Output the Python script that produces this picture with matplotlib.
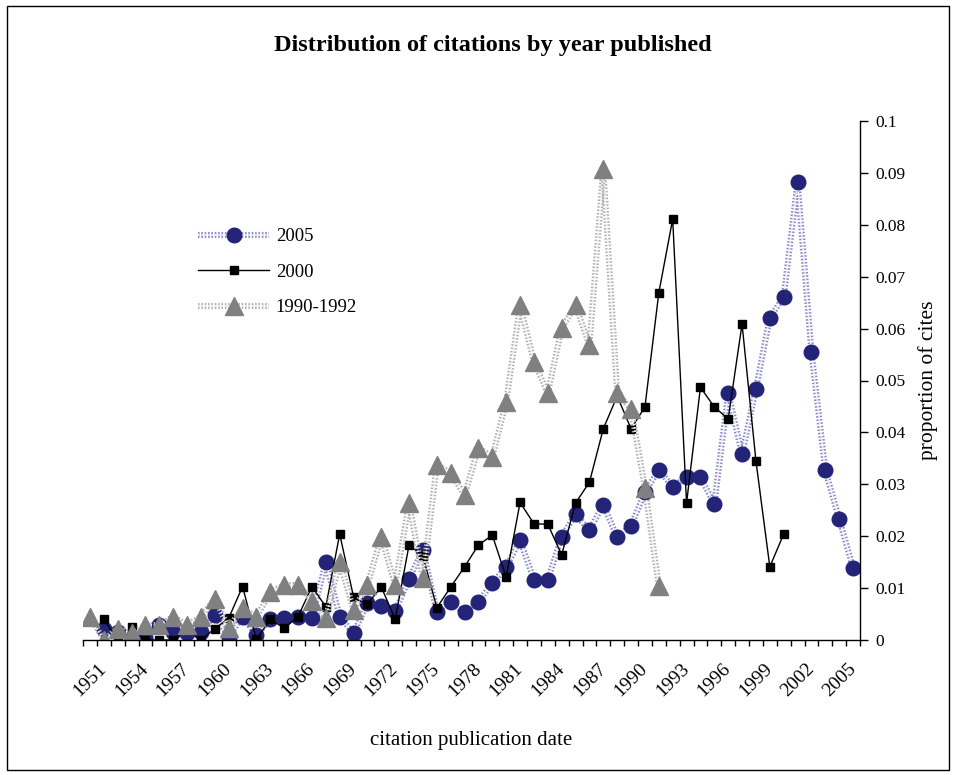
import matplotlib.pyplot as plt
import matplotlib.patheffects as pe
from matplotlib.legend_handler import HandlerTuple
from matplotlib.patches import Rectangle
from matplotlib.ticker import FixedLocator, NullFormatter
import numpy as np

plt.rcParams['font.family'] = ['Liberation Serif', 'DejaVu Serif']

nan = np.nan
years = list(range(1950, 2006))

cites_2005 = [nan, 0.0022, 0.0015, 0.0004, 0.0003, 0.0028, 0.0016, 0.0014, 0.0016, 0.0048,
              0.0006, 0.0045, 0.0010, 0.0040, 0.0042, 0.0045, 0.0043, 0.0150, 0.0045, 0.0013,
              0.0071, 0.0065, 0.0055, 0.0118, 0.0174, 0.0054, 0.0073, 0.0053, 0.0073, 0.0110,
              0.0141, 0.0192, 0.0116, 0.0116, 0.0199, 0.0242, 0.0211, 0.0261, 0.0198, 0.0220,
              0.0285, 0.0328, 0.0295, 0.0314, 0.0314, 0.0262, 0.0476, 0.0358, 0.0484, 0.0621,
              0.0661, 0.0882, 0.0555, 0.0327, 0.0233, 0.0139]

cites_2000 = [nan, 0.0040, 0.0000, 0.0025, 0.0000, 0.0000, 0.0000, 0.0020, 0.0000, 0.0022,
              0.0042, 0.0103, 0.0001, 0.0040, 0.0023, 0.0045, 0.0103, 0.0064, 0.0204, 0.0083,
              0.0070, 0.0102, 0.0040, 0.0183, 0.0162, 0.0062, 0.0102, 0.0141, 0.0183, 0.0202,
              0.0121, 0.0265, 0.0224, 0.0223, 0.0164, 0.0264, 0.0304, 0.0407, 0.0470, 0.0407,
              0.0449, 0.0669, 0.0811, 0.0264, 0.0487, 0.0449, 0.0426, 0.0609, 0.0345, 0.0141,
              0.0204, nan, nan, nan, nan, nan]

cites_1990_92 = [0.0045, 0.0000, 0.0022, 0.0013, 0.0028, 0.0029, 0.0045, 0.0029, 0.0045, 0.0079,
                 0.0024, 0.0062, 0.0044, 0.0092, 0.0106, 0.0106, 0.0076, 0.0042, 0.0150, 0.0058,
                 0.0106, 0.0199, 0.0106, 0.0264, 0.0119, 0.0337, 0.0322, 0.0279, 0.0370, 0.0353,
                 0.0459, 0.0645, 0.0536, 0.0476, 0.0601, 0.0645, 0.0568, 0.0907, 0.0476, 0.0445,
                 0.0293, 0.0104, nan, nan, nan, nan, nan, nan, nan, nan,
                 nan, nan, nan, nan, nan, nan]

x = np.arange(len(years))

fig = plt.figure(figsize=(9.56, 7.75), dpi=100)
ax = fig.add_axes([83 / 956, 1 - 640 / 775, 777 / 956, 519 / 775])

handles = []

# 2005: textured blue line, navy circles
l1, = ax.plot(x, cites_2005, color='white', lw=1.1, ls=(0, (1, 1.2)), zorder=2,
              path_effects=[pe.Stroke(linewidth=4.4, foreground='#8a8ac6'), pe.Normal()])
m1, = ax.plot(x, cites_2005, ls='none', marker='o', ms=10.5, color='#232378',
              markeredgecolor='#232378', zorder=2.1)
handles.append((l1, m1))

# 2000: thin black line, black squares
l2, = ax.plot(x, cites_2000, color='black', lw=1.0, zorder=2.2)
m2, = ax.plot(x, cites_2000, ls='none', marker='s', ms=6, color='black', zorder=2.3)
handles.append((l2, m2))

# 1990-1992: textured gray line, gray triangles
l3, = ax.plot(x, cites_1990_92, color='white', lw=1.1, ls=(0, (1, 1.2)), zorder=2.4,
              path_effects=[pe.Stroke(linewidth=4.4, foreground='#b0b0b0'), pe.Normal()])
m3, = ax.plot(x, cites_1990_92, ls='none', marker='^', ms=13, color='#808080',
              markeredgecolor='#808080', zorder=2.5)
handles.append((l3, m3))

ax.set_xlim(-0.5, len(years) - 0.5)
ax.set_ylim(0, 0.1)

for side in ['left', 'top']:
    ax.spines[side].set_visible(False)
ax.spines['bottom'].set_linewidth(1.0)
ax.spines['right'].set_linewidth(1.0)

# x axis: tick marks between categories, labels every 3 years from 1951
label_idx = list(range(1, len(years), 3))
ax.set_xticks(label_idx)
ax.set_xticklabels([str(years[i]) for i in label_idx], rotation=45, ha='right',
                   va='center', rotation_mode='anchor', fontsize=14)
ax.tick_params(axis='x', which='major', length=0, pad=19)
ax.xaxis.set_minor_locator(FixedLocator(np.arange(-0.5, len(years), 1.0)))
ax.xaxis.set_minor_formatter(NullFormatter())
ax.tick_params(axis='x', which='minor', direction='out', length=4, width=1)

# y axis on the right
ax.yaxis.tick_right()
ax.yaxis.set_label_position('right')
yt = np.round(np.arange(0, 0.1001, 0.01), 2)
ax.set_yticks(yt)
ax.set_yticklabels(['0'] + ['%g' % v for v in yt[1:]], fontsize=12.5)
ax.tick_params(axis='y', direction='out', length=6, width=1, pad=5)
ax.set_ylabel('proportion of cites', fontsize=15.5, labelpad=9)
ax.set_xlabel('citation publication date', fontsize=15, labelpad=22)

fig.text(493 / 956, 1 - 45 / 775, 'Distribution of citations by year published',
         ha='center', va='center', fontsize=17.5, fontweight='bold')

ax.legend(handles, ['2005', '2000', '1990-1992'],
          handler_map={tuple: HandlerTuple(ndivide=1)},
          loc='upper left', bbox_to_anchor=(198 / 956, 1 - 228 / 775),
          bbox_transform=fig.transFigure, frameon=False, fontsize=13.5,
          handlelength=3.8, handletextpad=0.35, labelspacing=0.98,
          borderpad=0, borderaxespad=0)

fig.patches.append(Rectangle((7 / 956, 5 / 775), 942 / 956, 764 / 775,
                             transform=fig.transFigure, fill=False,
                             edgecolor='black', lw=1))

fig.savefig('out.png', dpi=100)
